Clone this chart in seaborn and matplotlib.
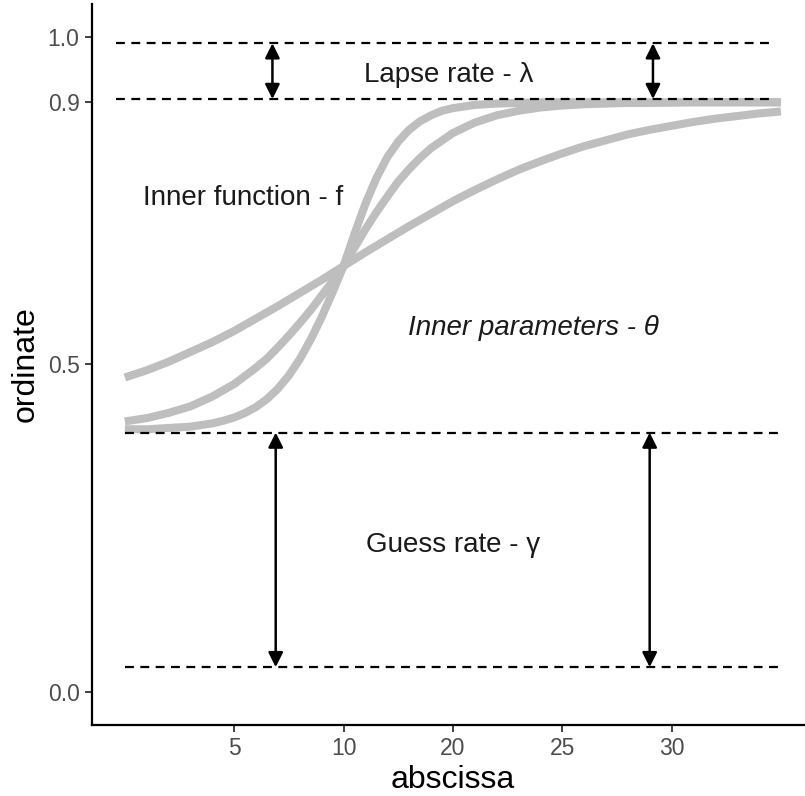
import numpy as np
import pandas as pd
import matplotlib
matplotlib.use("Agg")
import matplotlib.pyplot as plt
import seaborn as sns

# curves
shallow_x = list(range(0, 31))
shallow_y = [0.480, 0.491, 0.504, 0.519, 0.534, 0.551, 0.570, 0.589, 0.609, 0.629,
             0.650, 0.671, 0.691, 0.711, 0.730, 0.749, 0.766, 0.782, 0.797, 0.810,
             0.822, 0.833, 0.842, 0.851, 0.858, 0.864, 0.870, 0.875, 0.879, 0.883, 0.886]

medium_x = [0, 1, 2, 3, 4, 5, 6, 6.5, 7, 7.5, 8, 8.5, 9, 9.5, 10, 10.5, 11, 11.5, 12,
            12.5, 13, 13.5, 14, 15, 16, 17, 18, 19, 20, 21, 22, 23, 24, 26, 28, 30]
medium_y = [0.413, 0.418, 0.426, 0.436, 0.451, 0.470, 0.495, 0.509, 0.526, 0.544, 0.563,
            0.583, 0.605, 0.627, 0.650, 0.678, 0.706, 0.732, 0.756, 0.779, 0.798, 0.815,
            0.830, 0.853, 0.869, 0.880, 0.887, 0.892, 0.895, 0.897, 0.898, 0.899, 0.899,
            0.900, 0.900, 0.900]

steep_x = [0, 1, 2, 3, 4, 4.5, 5, 5.5, 6, 6.5, 7, 7.5, 8, 8.5, 9, 9.5, 10, 10.5, 11,
           11.5, 12, 12.5, 13, 13.5, 14, 14.5, 15, 16, 17, 18, 19, 20, 25, 30]
steep_y = [0.401, 0.401, 0.403, 0.405, 0.410, 0.414, 0.419, 0.426, 0.435, 0.447, 0.463,
           0.483, 0.508, 0.538, 0.572, 0.610, 0.650, 0.699, 0.745, 0.784, 0.816, 0.840,
           0.858, 0.871, 0.880, 0.887, 0.891, 0.896, 0.898, 0.899, 0.900, 0.900, 0.900,
           0.900]

# dashed guide levels
upper_levels = [0.990, 0.905]
lower_levels = [0.396, 0.038]
upper_span = [-0.4, 29.7]
lower_span = [0.0, 30.0]

# double arrows
lapse_arrows_x = [6.75, 24.15]
guess_arrows_x = [6.9, 24.0]

x_ticks = [5, 10, 15, 20, 25]
x_tick_labels = ["5", "10", "20", "25", "30"]
y_ticks = [0.0, 0.5, 0.9, 1.0]
y_tick_labels = ["0.0", "0.5", "0.9", "1.0"]

df = pd.DataFrame({
    "x": shallow_x + medium_x + steep_x,
    "y": shallow_y + medium_y + steep_y,
    "curve": ["shallow"] * len(shallow_x) + ["medium"] * len(medium_x) + ["steep"] * len(steep_x),
})

sns.set_style("white")
plt.rcParams["font.family"] = ["Liberation Sans", "DejaVu Sans"]

fig = plt.figure(figsize=(8.05, 7.96), dpi=100)
ax = fig.add_axes([92 / 805, 0.0894, 721.7 / 805, 0.9056])

sns.lineplot(data=df, x="x", y="y", units="curve", estimator=None, sort=False,
             color="#BEBEBE", linewidth=5.8, solid_capstyle="butt",
             solid_joinstyle="round", ax=ax, zorder=2)

dash = (0, (4.0, 2.9))
for lv in upper_levels:
    ax.plot(upper_span, [lv, lv], color="black", lw=1.6, ls=dash, zorder=3)
for lv in lower_levels:
    ax.plot(lower_span, [lv, lv], color="black", lw=1.6, ls=dash, zorder=3)

arrow_kw = dict(arrowstyle="<|-|>", color="black", lw=1.8, mutation_scale=22,
                shrinkA=0, shrinkB=0)
for ax_x in lapse_arrows_x:
    ax.annotate("", xy=(ax_x, upper_levels[0]), xytext=(ax_x, upper_levels[1]),
                arrowprops=arrow_kw, zorder=4)
for ax_x in guess_arrows_x:
    ax.annotate("", xy=(ax_x, lower_levels[0]), xytext=(ax_x, lower_levels[1]),
                arrowprops=arrow_kw, zorder=4)

ax.text(14.8, 0.942, "Lapse rate - λ", fontsize=20, ha="center", va="center", color="#1a1a1a")
ax.text(5.43, 0.754, "Inner function - f", fontsize=20, ha="center", va="center", color="#1a1a1a")
ax.text(18.7, 0.556, "Inner parameters - θ", fontsize=20, ha="center", va="center",
        style="italic", color="#1a1a1a")
ax.text(15.03, 0.224, "Guess rate - γ", fontsize=20, ha="center", va="center", color="#1a1a1a")

ax.set_xlim(-1.5, 31.5)
ax.set_ylim(-0.05, 1.05)
ax.set_xticks(x_ticks)
ax.set_xticklabels(x_tick_labels)
ax.set_yticks(y_ticks)
ax.set_yticklabels(y_tick_labels)
ax.tick_params(axis="both", length=5, width=1.3, color="#333333", labelcolor="#4D4D4D",
               labelsize=16.5, pad=4, direction="out", left=True, bottom=True)
ax.set_xlabel("abscissa", fontsize=23, color="black", labelpad=3)
ax.set_ylabel("ordinate", fontsize=23, color="black", labelpad=5)

for side in ["top", "right"]:
    ax.spines[side].set_visible(False)
for side in ["left", "bottom"]:
    ax.spines[side].set_color("black")
    ax.spines[side].set_linewidth(1.6)
ax.grid(False)

fig.savefig("out.png", dpi=100)
